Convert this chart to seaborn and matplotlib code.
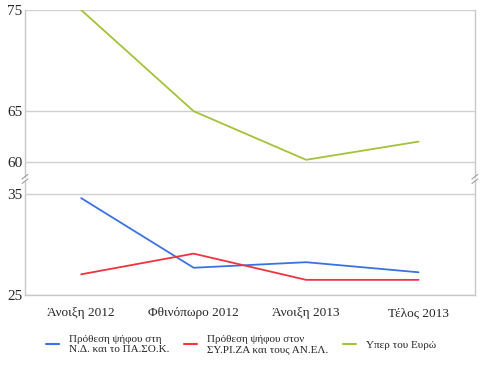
import pandas as pd
import seaborn as sns
import matplotlib.pyplot as plt

# Data
periods = ["Άνοιξη 2012", "Φθινόπωρο 2012", "Άνοιξη 2013", "Τέλος 2013"]
series_names = [
    "Πρόθεση ψήφου στη\nΝ.Δ. και το ΠΑ.ΣΟ.Κ.",
    "Πρόθεση ψήφου στον\nΣΥ.ΡΙ.ΖΑ και τους ΑΝ.ΕΛ.",
    "Υπερ του Ευρώ",
]
nd_pasok = [34.6, 27.7, 28.25, 27.25]
syriza_anel = [27.05, 29.1, 26.5, 26.5]
euro = [75.0, 65.0, 60.2, 62.0]
colors = ["#3b72e3", "#f0333d", "#a3c33a"]

top_ticks = [60, 65, 75]
bottom_ticks = [25, 35]


def build_frame():
    rows = []
    for name, vals in zip(series_names, [nd_pasok, syriza_anel, euro]):
        for i, v in enumerate(vals):
            rows.append({"x": i, "period": periods[i], "series": name, "value": v})
    return pd.DataFrame(rows)


def style_axis(ax, ticks, show_bottom):
    ax.set_xlim(-0.5, len(periods) - 0.5)
    ax.set_yticks(ticks)
    ax.grid(axis="y", color="#d0d0d0", linewidth=1.0)
    ax.grid(axis="x", visible=False)
    ax.tick_params(axis="y", length=0, pad=2, labelsize=11)
    ax.set_xlabel("")
    ax.set_ylabel("")
    ax.spines["top"].set_visible(False)
    ax.spines["bottom"].set_visible(show_bottom)
    for side in ["left", "right", "bottom"]:
        ax.spines[side].set_color("#c8c8c8")
        ax.spines[side].set_linewidth(1.0)
    if not show_bottom:
        ax.set_xticks([])


def main():
    sns.set_style("white")
    plt.rcParams["font.family"] = ["Liberation Serif", "DejaVu Serif"]

    df = build_frame()
    palette = dict(zip(series_names, colors))

    fig = plt.figure(figsize=(4.85, 3.78), dpi=100)
    ax_top = fig.add_axes([0.0515, 0.5317, 0.9275, 0.4418])
    ax_bot = fig.add_axes([0.0515, 0.2196, 0.9275, 0.3016])

    for ax in (ax_top, ax_bot):
        sns.lineplot(data=df, x="x", y="value", hue="series", palette=palette,
                     hue_order=series_names, linewidth=1.3, ax=ax, legend=False)

    ax_top.set_ylim(58.5, 75)
    ax_bot.set_ylim(25, 36.3)
    style_axis(ax_top, top_ticks, False)
    style_axis(ax_bot, bottom_ticks, True)
    ax_bot.set_xticks(range(len(periods)))
    ax_bot.set_xticklabels(periods)
    ax_bot.tick_params(axis="x", length=0, pad=9, labelsize=9.5)

    # break marks
    for xpos in (0.0, 1.0):
        for dy in (-0.006, 0.006):
            fig.lines.append(plt.Line2D(
                [0.0515 + 0.9275 * xpos - 0.006, 0.0515 + 0.9275 * xpos + 0.006],
                [0.5265 + dy - 0.006, 0.5265 + dy + 0.006],
                transform=fig.transFigure, color="#a0a0a0", linewidth=0.8))

    handles = [plt.Line2D([], [], color=c, linewidth=1.5) for c in colors]
    fig.legend(handles, series_names, loc="center", bbox_to_anchor=(0.497, 0.088),
               ncol=3, frameon=False, fontsize=8, handlelength=1.1,
               handletextpad=0.9, columnspacing=1.4)

    fig.savefig("out.png", dpi=100)


if __name__ == "__main__":
    main()
